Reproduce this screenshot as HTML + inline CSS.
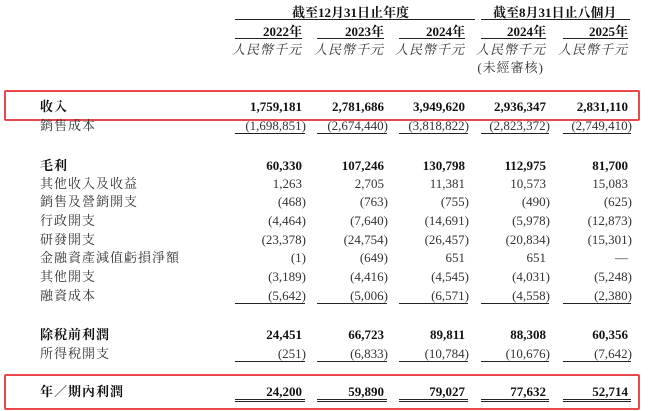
<!DOCTYPE html>
<html><head><meta charset="utf-8"><style>
body{margin:0;width:650px;height:411px;background:#fff;position:relative;overflow:hidden;font-family:"Liberation Serif","Noto Serif CJK TC","Noto Serif CJK SC",serif;color:#333}
.t{position:absolute;white-space:nowrap;font-size:13px;line-height:14px}
.l{left:40px;letter-spacing:1px}
.n{text-align:right}
.b{font-weight:bold;color:#111}
.p{margin-right:-4px}
.hl{position:absolute;height:1px;background:#222}
.box{position:absolute;border:2.5px solid #e8474c;border-radius:2px}
</style></head><body>
<div class="box" style="left:4px;top:90px;width:632px;height:27px"></div>
<div class="box" style="left:4px;top:374px;width:632px;height:32px"></div>

<div class="t b" style="left:292px;top:6px">截至12月31日止年度</div>
<div class="hl" style="left:235px;top:19px;width:240px"></div>
<div class="t b" style="left:493px;top:6px">截至8月31日止八個月</div>
<div class="hl" style="left:481px;top:19px;width:149px"></div>

<div id="hdr"></div>
<script>
const cols=[302,384,465,546,628];
const starts=[235,317,399,481,563];
let h='';
const yrs=['2022年','2023年','2024年','2024年','2025年'];
cols.forEach((c,i)=>{
 h+=`<div class="t n b" style="right:${650-c}px;top:25px">${yrs[i]}</div>`;
 h+=`<div class="hl" style="left:${starts[i]}px;top:38px;width:${c-starts[i]}px"></div>`;
 h+=`<div class="t n" style="right:${650-c}px;top:43px;font-style:italic;letter-spacing:1px">人民幣千元</div>`;
});
h+=`<div class="t n" style="right:${650-544}px;top:61px;letter-spacing:1px">(未經審核)</div>`;
const rows=[
 ['收入',107,1,['1,759,181','2,781,686','3,949,620','2,936,347','2,831,110'],0],
 ['銷售成本',126,0,['(1,698,851)','(2,674,440)','(3,818,822)','(2,823,372)','(2,749,410)'],1],
 ['毛利',166,1,['60,330','107,246','130,798','112,975','81,700'],0],
 ['其他收入及收益',184,0,['1,263','2,705','11,381','10,573','15,083'],0],
 ['銷售及營銷開支',202,0,['(468)','(763)','(755)','(490)','(625)'],0],
 ['行政開支',221,0,['(4,464)','(7,640)','(14,691)','(5,978)','(12,873)'],0],
 ['研發開支',240,0,['(23,378)','(24,754)','(26,457)','(20,834)','(15,301)'],0],
 ['金融資產減值虧損淨額',258,0,['(1)','(649)','651','651','—'],0],
 ['其他開支',277,0,['(3,189)','(4,416)','(4,545)','(4,031)','(5,248)'],0],
 ['融資成本',296,0,['(5,642)','(5,006)','(6,571)','(4,558)','(2,380)'],1],
 ['除稅前利潤',335,1,['24,451','66,723','89,811','88,308','60,356'],0],
 ['所得稅開支',354,0,['(251)','(6,833)','(10,784)','(10,676)','(7,642)'],1],
 ['年／期內利潤',392,1,['24,200','59,890','79,027','77,632','52,714'],2],
];
rows.forEach(r=>{
 const y=r[1]-7;
 h+=`<div class="t l ${r[2]?'b':''}" style="top:${y}px">${r[0]}</div>`;
 r[3].forEach((v,i)=>{
  let s=v;
  if(v.endsWith(')'))s=v.slice(0,-1)+'<span class="p">)</span>';
  h+=`<div class="t n ${r[2]?'b':''}" style="right:${650-cols[i]}px;top:${y}px">${s}</div>`;
  if(r[4]>=1)h+=`<div class="hl" style="left:${starts[i]}px;top:${r[1]+7}px;width:${cols[i]-starts[i]+3}px"></div>`;
  if(r[4]==2)h+=`<div class="hl" style="left:${starts[i]}px;top:${r[1]+9}px;width:${cols[i]-starts[i]+3}px"></div>`;
 });
});
document.getElementById('hdr').outerHTML=h;
</script>
</body></html>
